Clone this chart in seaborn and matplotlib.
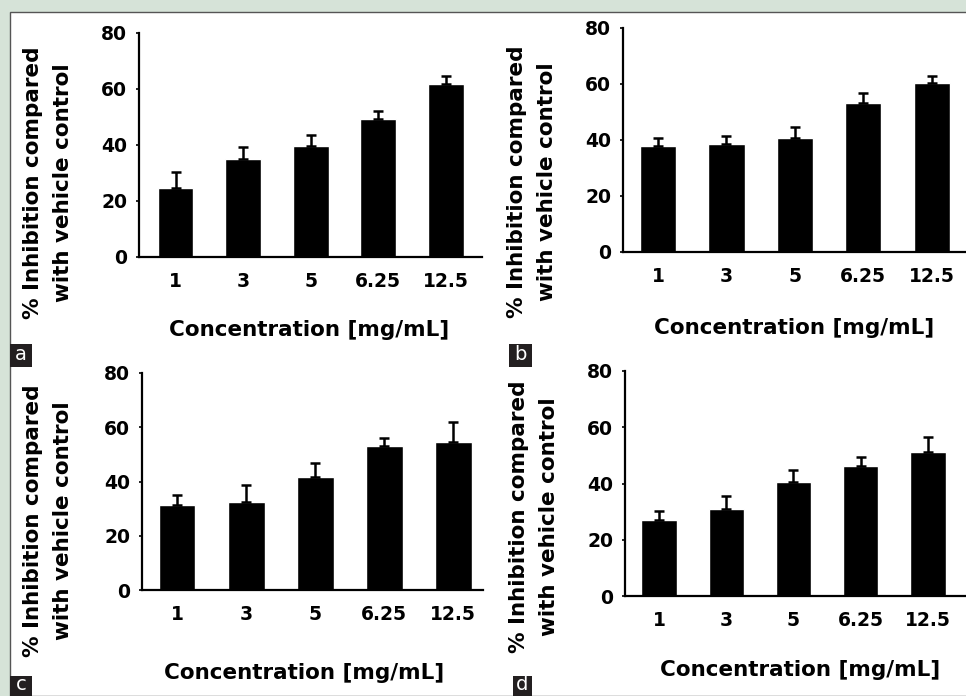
import numpy as np
import pandas as pd
import matplotlib
matplotlib.use("Agg")
import matplotlib.pyplot as plt
from matplotlib.patches import Rectangle
import seaborn as sns

# concentrations (x categories)
conc = ["1", "3", "5", "6.25", "12.5"]

# % inhibition and upper error (SD)
inhib_a = [24.8, 35.1, 39.6, 49.4, 61.7]
err_a = [5.6, 4.3, 4.1, 2.9, 3.0]
inhib_b = [38.0, 38.4, 40.7, 53.1, 60.2]
err_b = [2.6, 3.2, 4.1, 3.6, 2.5]
inhib_c = [31.4, 32.5, 41.6, 53.0, 54.6]
err_c = [3.7, 6.3, 5.1, 3.1, 7.4]
inhib_d = [27.0, 30.9, 40.6, 46.1, 51.3]
err_d = [3.3, 4.8, 4.1, 3.3, 5.1]

panel_tags = ["a", "b", "c", "d"]

sns.set_style("ticks")
plt.rcParams['font.family'] = ['DejaVu Sans']
plt.rcParams['text.color'] = 'black'
plt.rcParams['axes.labelcolor'] = 'black'
plt.rcParams['xtick.color'] = 'black'
plt.rcParams['ytick.color'] = 'black'

W, H = 966, 696
fig = plt.figure(figsize=(W / 100, H / 100), dpi=100)
fig.patch.set_facecolor('#d6e3d8')

# white page with thin dark border on top / left
fig.patches.append(Rectangle((10 / W, 0), 1, (H - 12) / H, transform=fig.transFigure,
                             facecolor='white', edgecolor='#555555', linewidth=1.0, zorder=-1))

# axes placement in pixels: left, y of zero line (from top), width, height, xlim, label positions
layout = [
    dict(left=139, y0=257, w=343.4, h=224, xlim=(-0.54, 4.54), xl=(0.495, -0.326), yl=(-0.265, 0.333)),
    dict(left=623, y0=252, w=343, h=224, xlim=(-0.51, 4.50), xl=(0.4985, -0.339), yl=(-0.265, 0.3125)),
    dict(left=142, y0=590, w=341, h=217, xlim=(-0.51, 4.43), xl=(0.475, -0.382), yl=(-0.276, 0.318)),
    dict(left=625, y0=596, w=341, h=225, xlim=(-0.51, 4.57), xl=(0.513, -0.329), yl=(-0.267, 0.351)),
]
values = [inhib_a, inhib_b, inhib_c, inhib_d]
errors = [err_a, err_b, err_c, err_d]

for lay, vals, errs in zip(layout, values, errors):
    ax = fig.add_axes([lay['left'] / W, (H - lay['y0']) / H, lay['w'] / W, lay['h'] / H])
    ax.set_facecolor('none')
    df = pd.DataFrame({'conc': conc, 'inhib': vals})
    sns.barplot(data=df, x='conc', y='inhib', color='black', saturation=1, width=0.53,
                errorbar=None, ax=ax)
    ax.errorbar(np.arange(len(conc)), vals, yerr=[np.zeros(len(errs)), errs], fmt='none',
                ecolor='black', elinewidth=1.8, capsize=3.5, capthick=1.8)
    ax.set_ylim(0, 80)
    ax.set_xlim(*lay['xlim'])
    ax.set_yticks([0, 20, 40, 60, 80])
    sns.despine(ax=ax)
    for sp in ['left', 'bottom']:
        ax.spines[sp].set_linewidth(1.6)
        ax.spines[sp].set_color('black')
    ax.tick_params(axis='x', length=0, pad=11, labelsize=13.5)
    ax.tick_params(axis='y', length=2.5, width=1.2, pad=6, labelsize=13.5)
    for lab in ax.get_xticklabels() + ax.get_yticklabels():
        lab.set_fontweight('bold')
    ax.set_xlabel('Concentration [mg/mL]', fontsize=15.5, fontweight='bold', va='center')
    ax.xaxis.set_label_coords(*lay['xl'])
    ax.set_ylabel('% Inhibition compared\nwith vehicle control', fontsize=15.5,
                  fontweight='bold', va='center', ha='center', linespacing=1.65)
    ax.yaxis.set_label_coords(*lay['yl'])

# panel tags in dark boxes
tag_boxes = [(10, 344, 22, 23), (509, 344, 23, 23), (10, 676, 22, 20), (513, 676, 19, 20)]
for tag, (x, y, bw, bh) in zip(panel_tags, tag_boxes):
    fig.patches.append(Rectangle((x / W, (H - y - bh) / H), bw / W, bh / H, transform=fig.transFigure,
                                 facecolor='#231f20', edgecolor='none', zorder=3))
    fig.text((x + bw / 2) / W, (H - y - bh / 2 + 1) / H, tag, color='white', fontsize=14,
             ha='center', va='center', zorder=4)

fig.savefig('out.png', dpi=100, facecolor=fig.get_facecolor())
